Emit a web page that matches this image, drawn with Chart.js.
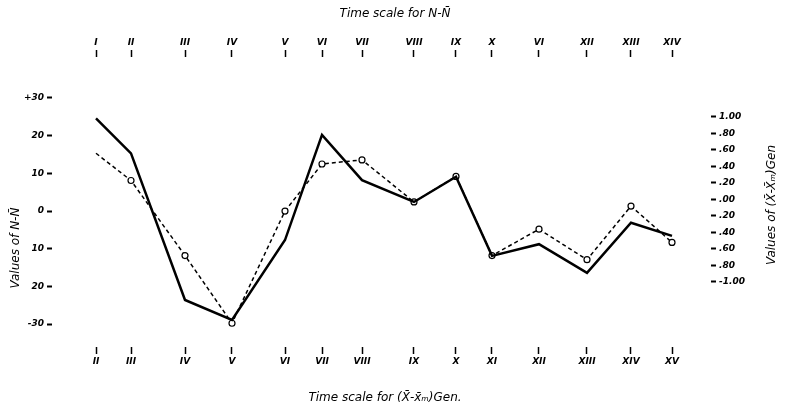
<!DOCTYPE html>
<html>
<head>
<meta charset="utf-8">
<script src="https://cdn.jsdelivr.net/npm/chart.js@4"></script>
<style>
  body { margin: 0; background: #fff; }
  #wrap { width: 787px; height: 416px; }
</style>
</head>
<body>
<div id="wrap"><canvas id="myChart" width="787" height="416"></canvas></div>
<script>
const topLabels = ["I", "II", "III", "IV", "V", "VI", "VII", "VIII", "IX", "X", "VI", "XII", "XIII", "XIV"];
const bottomLabels = ["II", "III", "IV", "V", "VI", "VII", "VIII", "IX", "X", "XI", "XII", "XIII", "XIV", "XV"];
const timePos = [0, 3.5, 8.9, 13.6, 18.9, 22.6, 26.6, 31.8, 36, 39.6, 44.3, 49.1, 53.5, 57.6];

const nValues = [24.6, 15.3, -23.6, -28.9, -7.7, 20.2, 8.2, 2.4, 9.1, -11.9, -8.8, -16.4, -3.1, -6.6];
const xValues = [0.56, 0.23, -0.68, -1.50, -0.14, 0.43, 0.48, -0.03, 0.28, -0.68, -0.36, -0.73, -0.08, -0.52];

const leftTicks = [30, 20, 10, 0, -10, -20, -30];
const leftTickLabels = ["+30", "20", "10", "0", "10", "20", "-30"];
const rightTicks = [1, 0.8, 0.6, 0.4, 0.2, 0, -0.2, -0.4, -0.6, -0.8, -1];
const rightTickLabels = ["1.00", ".80", ".60", ".40", ".20", ".00", ".20", ".40", ".60", ".80", "-1.00"];

const tickFont = { family: "DejaVu Sans", size: 9, style: "italic", weight: "bold" };

const fixWidth = (w) => (scale) => { scale.width = w; };
const fixHeight = (h) => (scale) => { scale.height = h; };

const titles = {
  id: "titles",
  afterDraw(chart) {
    let ctx = chart.ctx;
    ctx.save();
    ctx.fillStyle = "#000";
    ctx.font = "italic 12px 'DejaVu Sans'";
    ctx.textAlign = "center";
    ctx.textBaseline = "middle";
    ctx.fillText("Time scale for N-N\u0304", 395, 14);
    ctx.fillText("Time scale for (X\u0304-x\u0304\u2098)Gen.", 385, 398);

    ctx.translate(16, 248);
    ctx.rotate(-Math.PI / 2);
    ctx.fillText("Values of N-N\u0304", 0, 0);
    ctx.restore();

    ctx.save();
    ctx.fillStyle = "#000";
    ctx.font = "italic 12px 'DejaVu Sans'";
    ctx.textAlign = "center";
    ctx.textBaseline = "middle";
    ctx.translate(772, 205);
    ctx.rotate(-Math.PI / 2);
    ctx.fillText("Values of (X\u0304-X\u0304\u2098)Gen", 0, 0);
    ctx.restore();
  }
};

const xAxis = (position, labels, height) => ({
  type: "linear",
  position: position,
  min: -4.4,
  max: 61.5,
  afterFit: fixHeight(height),
  afterBuildTicks: (scale) => { scale.ticks = timePos.map((v) => ({ value: v })); },
  border: { display: false },
  grid: { drawOnChartArea: false, drawTicks: true, tickLength: 7, tickWidth: 1.5, color: "#000" },
  ticks: {
    autoSkip: false,
    maxRotation: 0,
    padding: 2,
    color: "#000",
    font: tickFont,
    callback: (value, i) => labels[i]
  }
});

const data = {
  datasets: [{
    label: "N-N\u0304",
    data: timePos.map((t, i) => ({ x: t, y: nValues[i] })),
    xAxisID: "xTop",
    yAxisID: "yLeft",
    borderColor: "#000",
    borderWidth: 2.5,
    pointRadius: 0,
    tension: 0
  }, {
    label: "(X\u0304-x\u0304m)Gen",
    data: timePos.map((t, i) => ({ x: t, y: xValues[i] })),
    xAxisID: "xBottom",
    yAxisID: "yRight",
    borderColor: "#000",
    borderWidth: 1.5,
    borderDash: [4, 3],
    pointRadius: timePos.map((t, i) => (i === 0 ? 0 : 3)),
    pointBackgroundColor: "#fff",
    pointBorderColor: "#000",
    pointBorderWidth: 1.2,
    tension: 0
  }]
};

const options = {
  responsive: false,
  animation: false,
  layout: { padding: 0 },
  plugins: {
    legend: { display: false },
    tooltip: { enabled: false }
  },
  scales: {
    xTop: xAxis("top", topLabels, 57),
    xBottom: xAxis("bottom", bottomLabels, 69),
    yLeft: {
      type: "linear",
      position: "left",
      min: -36.07,
      max: 40.85,
      afterFit: fixWidth(52),
      afterBuildTicks: (scale) => { scale.ticks = leftTicks.map((v) => ({ value: v })); },
      border: { display: false },
      grid: { drawOnChartArea: false, tickLength: 5, tickWidth: 2, color: "#000" },
      ticks: {
        padding: 3,
        color: "#000",
        font: tickFont,
        callback: (value, i) => leftTickLabels[i]
      }
    },
    yRight: {
      type: "linear",
      position: "right",
      min: -1.788,
      max: 1.727,
      afterFit: fixWidth(76),
      afterBuildTicks: (scale) => { scale.ticks = rightTicks.map((v) => ({ value: v })); },
      border: { display: false },
      grid: { drawOnChartArea: false, tickLength: 5, tickWidth: 2, color: "#000" },
      ticks: {
        padding: 3,
        color: "#000",
        font: tickFont,
        callback: (value, i) => rightTickLabels[i]
      }
    }
  }
};

let myChart = document.getElementById("myChart").getContext("2d");
let massChart = new Chart(myChart, {
  type: "line",
  data: data,
  options: options,
  plugins: [titles]
});
</script>
</body>
</html>
